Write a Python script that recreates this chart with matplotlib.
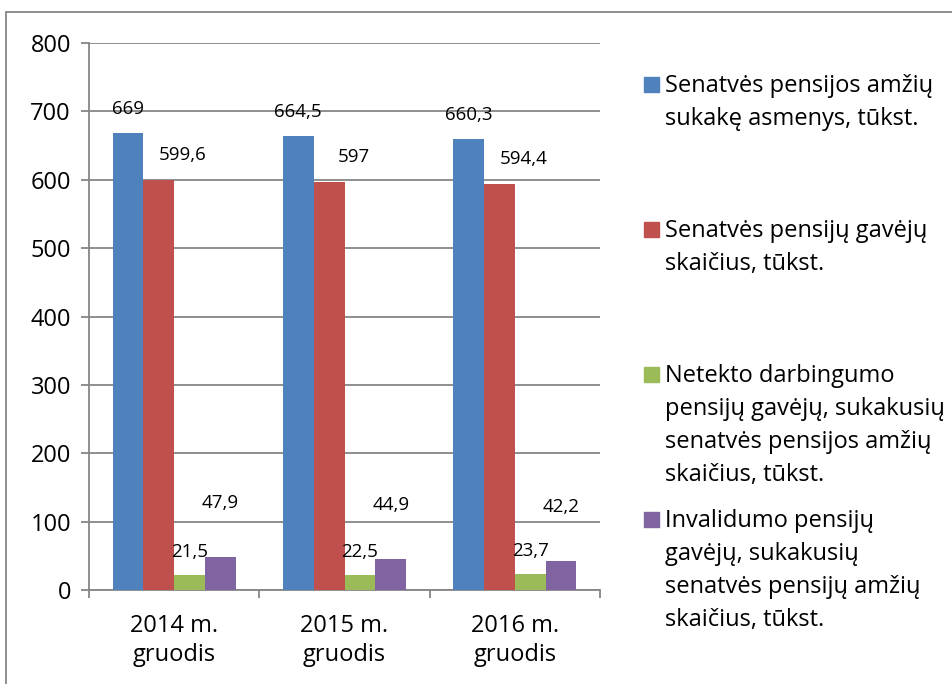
import matplotlib.pyplot as plt
from matplotlib.patches import Rectangle
import numpy as np

plt.rcParams['font.family'] = ['Open Sans', 'DejaVu Sans']

categories = ['2014 m.\ngruodis', '2015 m.\ngruodis', '2016 m.\ngruodis']
series_names = [
    'Senatvės pensijos amžių\nsukakę asmenys, tūkst.',
    'Senatvės pensijų gavėjų\nskaičius, tūkst.',
    'Netekto darbingumo\npensijų gavėjų, sukakusių\nsenatvės pensijos amžių\nskaičius, tūkst.',
    'Invalidumo pensijų\ngavėjų, sukakusių\nsenatvės pensijų amžių\nskaičius, tūkst.',
]
values = [
    [669, 664.5, 660.3],
    [599.6, 597, 594.4],
    [21.5, 22.5, 23.7],
    [47.9, 44.9, 42.2],
]
labels = [
    ['669', '664,5', '660,3'],
    ['599,6', '597', '594,4'],
    ['21,5', '22,5', '23,7'],
    ['47,9', '44,9', '42,2'],
]
colors = ['#4F81BD', '#C0504D', '#9BBB59', '#8064A2']
# label centre offsets (points) from bar top centre, like Excel placed them
label_offsets = [(0, 17), (17.5, 18), (0, 16.5), (0, 39)]

W, H = 952, 684
fig = plt.figure(figsize=(W / 100, H / 100), dpi=100)
ax = fig.add_axes([89 / W, 1 - 590 / H, (600 - 89) / W, (590 - 43) / H])

x = np.arange(len(categories))
bw = 0.181
for i, vals in enumerate(values):
    pos = x + (i - 1.5) * bw
    ax.bar(pos, vals, width=bw, color=colors[i], zorder=3)
    for p, v, t in zip(pos, vals, labels[i]):
        ax.annotate(t, (p, v), xytext=label_offsets[i], textcoords='offset points',
                    ha='center', va='center', fontsize=13.5, zorder=4)

grey = '#868686'
ax.set_xlim(-0.5, len(categories) - 0.5)
ax.set_ylim(0, 800)
ax.set_yticks(range(0, 801, 100))
ax.yaxis.grid(True, color=grey, linewidth=1.3, zorder=0)
ax.set_xticks(np.arange(-0.5, len(categories), 1))
ax.set_xticklabels([])
ax.set_xticks(x, minor=True)
ax.set_xticklabels(categories, minor=True, fontsize=17, linespacing=1.3)
ax.tick_params(axis='x', which='minor', length=0, pad=17)
ax.tick_params(axis='x', which='major', length=6, width=1.3, color=grey)
ax.tick_params(axis='y', length=6, width=1.3, color=grey, labelsize=17, pad=7)
for s in ['top', 'right']:
    ax.spines[s].set_visible(False)
for s in ['left', 'bottom']:
    ax.spines[s].set_color(grey)
    ax.spines[s].set_linewidth(1.3)

# legend drawn by hand (Excel spreads entries unevenly); first-line baseline in px
leg_base = [92, 237, 382, 527]
line_step = 33
for i, name in enumerate(series_names):
    b = leg_base[i]
    fig.patches.append(Rectangle((644 / W, 1 - b / H), 15 / W, 15 / H,
                                 transform=fig.transFigure, color=colors[i]))
    for k, line in enumerate(name.split('\n')):
        fig.text(665 / W, 1 - (b + k * line_step) / H, line, fontsize=17,
                 va='baseline', ha='left')

# outer chart border
fig.patches.append(Rectangle((6 / W, -0.05), 1.1, 1 - 12 / H + 0.05,
                             transform=fig.transFigure, fill=False,
                             edgecolor=grey, linewidth=1.3))

fig.savefig('out.png', dpi=100)
